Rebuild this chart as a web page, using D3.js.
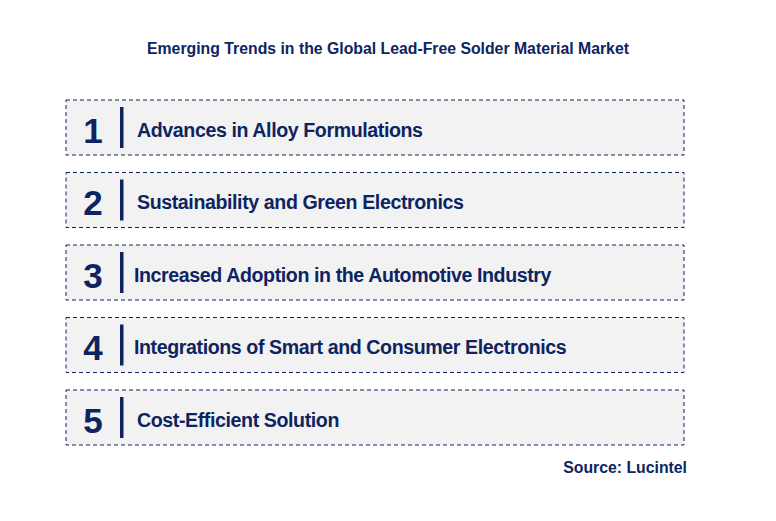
<!DOCTYPE html><html><head><meta charset="utf-8"><script src="https://cdn.jsdelivr.net/npm/d3@7"></script>
<style>body{margin:0;background:#fff}</style></head><body><svg id="c" width="776" height="521"></svg>
<script>
const title = "Emerging Trends in the Global Lead-Free Solder Material Market";
const ranks = ["1","2","3","4","5"];
const trends = ["Advances in Alloy Formulations","Sustainability and Green Electronics","Increased Adoption in the Automotive Industry","Integrations of Smart and Consumer Electronics","Cost-Efficient Solution"];
const source = "Source: Lucintel";
const navy = "#0d2461";
const svg = d3.select("#c");
const y = d3.scaleBand().domain(ranks).range([100, 445]).paddingInner(17.5/72.5);
svg.append("text").attr("x",388).attr("y",54).attr("text-anchor","middle").attr("font-family","Arial, Liberation Sans").attr("font-size",15.8).attr("font-weight","bold").attr("fill",navy).text(title);
const g = svg.selectAll("g.row").data(ranks).join("g").attr("transform",d=>`translate(0,${y(d)})`);
g.append("rect").attr("x",66).attr("width",618).attr("height",y.bandwidth()).attr("fill","#f2f2f2").attr("stroke",navy).attr("stroke-width",1).attr("stroke-dasharray","4,3");
g.append("text").attr("x",93).attr("y",y.bandwidth()/2+15).attr("text-anchor","middle").attr("font-family","Arial, Liberation Sans").attr("font-weight","bold").attr("font-size",35).attr("fill",navy).text(d=>d);
g.append("rect").attr("x",120).attr("y",7).attr("width",3.5).attr("height",y.bandwidth()-14).attr("fill",navy);
g.append("text").attr("x",(d,i)=> (i==2||i==3)?134:137).attr("y",y.bandwidth()/2+9).attr("font-family","Arial, Liberation Sans").attr("font-weight","bold").attr("font-size",19.6).attr("letter-spacing",-0.4).attr("fill",navy).text((d,i)=>trends[i]);
svg.append("text").attr("x",687).attr("y",473).attr("text-anchor","end").attr("font-family","Arial, Liberation Sans").attr("font-weight","bold").attr("font-size",15.8).attr("fill",navy).text(source);
</script></body></html>
